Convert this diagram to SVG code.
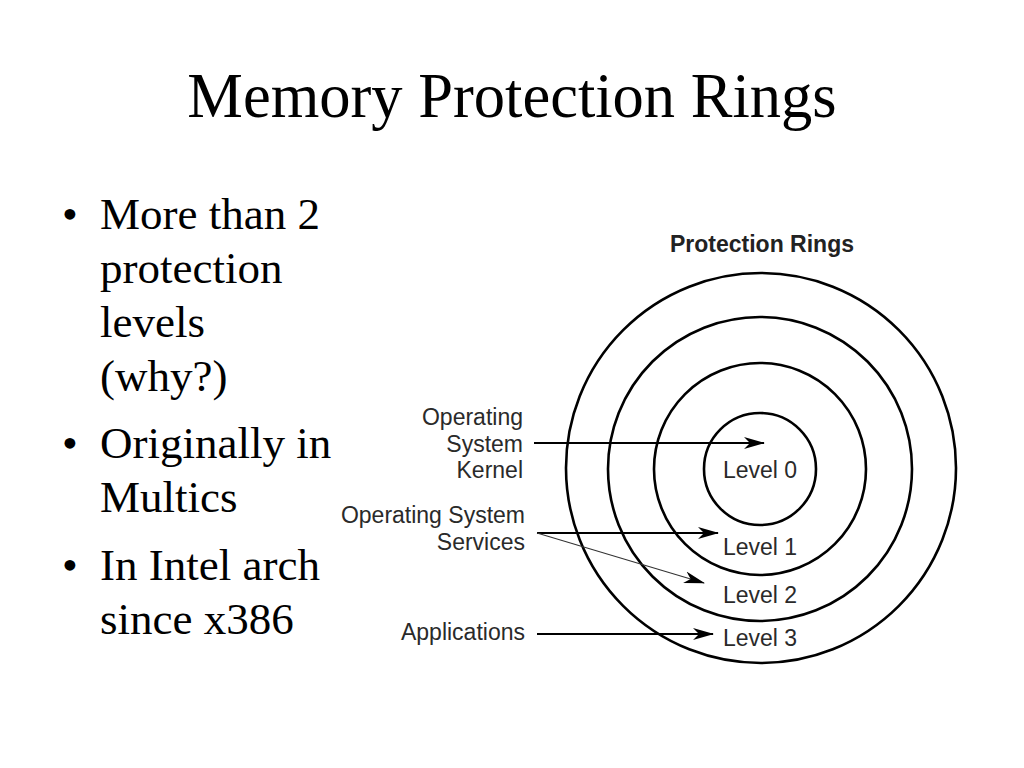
<svg xmlns="http://www.w3.org/2000/svg" width="1024" height="768" viewBox="0 0 1024 768">
<style>
.title{font-family:"Liberation Serif","Times New Roman",serif;font-size:62.5px;fill:#000}
.bul{font-family:"Liberation Serif","Times New Roman",serif;font-size:45px;fill:#000}
.lbl{font-family:"Liberation Sans",Arial,sans-serif;font-size:23px;fill:#2a2a2a}
.hdr{font-family:"Liberation Sans",Arial,sans-serif;font-size:23px;font-weight:bold;fill:#222}
.ring{fill:none;stroke:#000;stroke-width:2.6}
.conn{fill:none;stroke:#000;stroke-width:1.8}
.thin{fill:none;stroke:#333;stroke-width:1.1}
</style>
<defs>
<marker id="arr" markerWidth="21" markerHeight="14" refX="20" refY="7" orient="auto" markerUnits="userSpaceOnUse">
<path d="M0,1 L21,7 L0,13 L6,7 z" fill="#000"/>
</marker>
</defs>
<rect width="1024" height="768" fill="#fff"/>
<text class="title" x="512" y="117" text-anchor="middle">Memory Protection Rings</text>
<g id="bullets">
<text class="bul" x="62" y="229">•</text>
<text class="bul" x="100" y="229">More than 2</text>
<text class="bul" x="100" y="283">protection</text>
<text class="bul" x="100" y="337">levels</text>
<text class="bul" x="100" y="391">(why?)</text>
<text class="bul" x="62" y="458">•</text>
<text class="bul" x="100" y="458">Originally in</text>
<text class="bul" x="100" y="512">Multics</text>
<text class="bul" x="62" y="580">•</text>
<text class="bul" x="100" y="580">In Intel arch</text>
<text class="bul" x="100" y="634">since x386</text>
</g>
<text class="hdr" x="762" y="252" text-anchor="middle">Protection Rings</text>
<g id="ring3"><circle class="ring" cx="761" cy="468" r="195"/><text class="lbl" x="760" y="646" text-anchor="middle">Level 3</text></g>
<g id="ring2"><circle class="ring" cx="760" cy="469" r="152"/><text class="lbl" x="760" y="603" text-anchor="middle">Level 2</text></g>
<g id="ring1"><circle class="ring" cx="760" cy="469" r="106"/><text class="lbl" x="760" y="555" text-anchor="middle">Level 1</text></g>
<g id="ring0"><circle class="ring" cx="760" cy="469" r="56"/><text class="lbl" x="760" y="478" text-anchor="middle">Level 0</text></g>
<g id="kernel"><text class="lbl" x="523" y="425" text-anchor="end">Operating</text><text class="lbl" x="523" y="452" text-anchor="end">System</text><text class="lbl" x="523" y="478" text-anchor="end">Kernel</text></g>
<g id="services"><text class="lbl" x="525" y="523" text-anchor="end">Operating System</text><text class="lbl" x="525" y="550" text-anchor="end">Services</text></g>
<g id="apps"><text class="lbl" x="525" y="640" text-anchor="end">Applications</text></g>
<g id="connectors">
<line class="conn" x1="534" y1="443" x2="764" y2="443" marker-end="url(#arr)"/>
<line class="conn" x1="537" y1="533" x2="718" y2="533" marker-end="url(#arr)"/>
<line class="thin" x1="537" y1="533" x2="704" y2="583" marker-end="url(#arr)"/>
<line class="conn" x1="537" y1="634" x2="713" y2="634" marker-end="url(#arr)"/>
</g>
</svg>
